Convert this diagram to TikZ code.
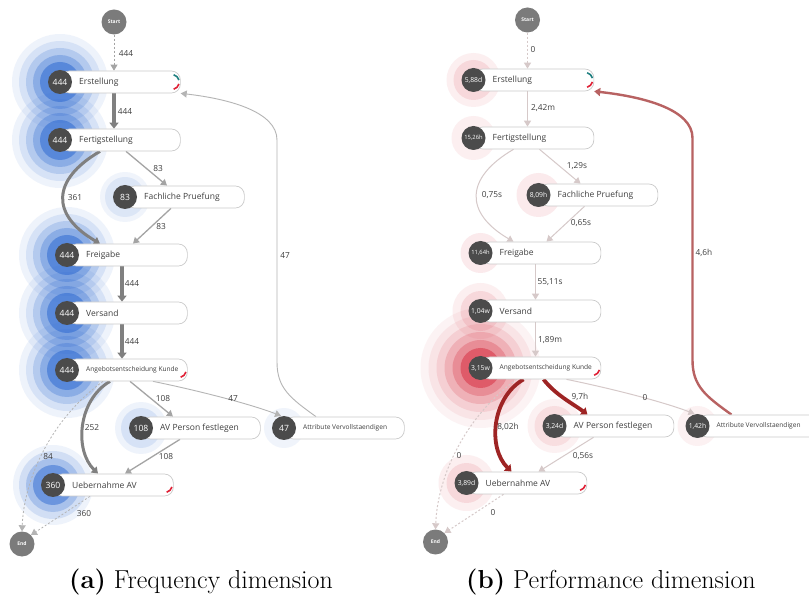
\documentclass[tikz,border=0pt]{standalone}
\usepackage{fontspec}
\newfontfamily\dgm{Open Sans}
\usetikzlibrary{arrows.meta,calc}
\pgfdeclarelayer{bg}\pgfdeclarelayer{halo}\pgfdeclarelayer{edges}
\pgfsetlayers{bg,halo,edges,main}

\definecolor{haloblue}{HTML}{2F6BD2}
\definecolor{halored}{HTML}{D93A4B}
\definecolor{cntgray}{HTML}{4B4B4B}
\definecolor{termgray}{HTML}{7B7B7B}
\definecolor{boxline}{HTML}{CACACA}
\definecolor{txt}{HTML}{3F3F3F}
\definecolor{thickgray}{HTML}{808080}
\definecolor{thingray}{HTML}{A4A4A4}
\definecolor{loopgray}{HTML}{B4B4B4}
\definecolor{palegray}{HTML}{D6C9C9}
\definecolor{darkred}{HTML}{9E2424}
\definecolor{midred}{HTML}{B86262}
\definecolor{markred}{HTML}{E02035}
\definecolor{markteal}{HTML}{1E7F80}

\tikzset{
  actbox/.style={draw=boxline, fill=white, rounded corners=9pt, minimum height=22pt,
    inner sep=0pt, anchor=west, line width=0.7pt},
  acttext/.style={anchor=west, inner sep=0pt, text=txt, font=\dgm\fontsize{8.5}{10}\selectfont},
  acttextsm/.style={acttext, font=\dgm\fontsize{6.6}{8}\selectfont},
  cnt/.style={circle, fill=cntgray, minimum size=24pt, inner sep=0pt, text=white,
    font=\dgm\fontsize{8.6}{9}\selectfont},
  term/.style={circle, fill=termgray, minimum size=25pt, inner sep=0pt, text=white,
    font=\dgm\bfseries\fontsize{5}{6}\selectfont},
  elab/.style={text=txt, inner sep=0pt, font=\dgm\fontsize{8.3}{9}\selectfont},
  thick edge/.style={draw=thickgray, line width=3.8pt, -{Triangle[length=6pt,width=9pt]}},
  mid edge/.style={draw=thickgray, line width=3pt, -{Triangle[length=6pt,width=8pt]}},
  thin edge/.style={draw=thingray, line width=1.3pt, -{Triangle[length=6pt,width=7pt]}},
  hair edge/.style={draw=loopgray, line width=0.9pt, -{Triangle[length=6pt,width=7pt]}},
  dash edge/.style={draw=thingray, line width=0.8pt, dash pattern=on 2pt off 2pt,
    -{Triangle[length=6pt,width=7pt]}},
  pale edge/.style={draw=palegray, line width=1pt, -{Triangle[length=6pt,width=7pt]}},
  pale dash/.style={pale edge, dash pattern=on 2pt off 2pt},
  red edge/.style={draw=darkred, line width=3.8pt, -{Triangle[length=6pt,width=9pt]}},
  back edge/.style={draw=midred, line width=2.4pt, -{Triangle[length=6pt,width=8pt]}},
  caption/.style={inner sep=0pt, font=\fontsize{26}{30}\selectfont},
}

% activity: name, x, y, box width, label, count, label style
\newcommand\act[7]{%
  \node[actbox, minimum width=#4pt] (#1) at (#2,#3) {};
  \node[#7] (#1t) at (#2+19,#3) {#5};
  \node[cnt] (#1c) at (#2,#3) {#6};
}
% concentric rings round a count circle
\newcommand\halo[3]{%
  \foreach \r/\o in {#2} {\fill[#3, fill opacity=\o] (#1) circle[radius=\r pt];}
}
% status arcs in the right end of a box
\newcommand\redarc[1]{%
  \draw[markred, line width=1.6pt] ($(#1.east)+(-9pt,0pt)+(-15:7.5pt)$)
    arc[start angle=-15, end angle=-75, radius=7.5pt];}
\newcommand\tealarc[1]{%
  \draw[markteal, line width=1.6pt] ($(#1.east)+(-9pt,0pt)+(75:7.5pt)$)
    arc[start angle=75, end angle=15, radius=7.5pt];}

\begin{document}
\begin{tikzpicture}[x=1pt,y=-1pt]
\begin{pgfonlayer}{bg}
  \fill[white] (0,0) rectangle (809,601);
\end{pgfonlayer}
\useasboundingbox (0,0) rectangle (809,601);

%% ---------------- (a) frequency ----------------
\act{aErst}{60}{82}{120}{Erstellung}{444}{acttext}
\act{aFert}{60}{140}{120}{Fertigstellung}{444}{acttext}
\act{aFach}{125}{197}{119}{Fachliche Pruefung}{83}{acttext}
\act{aFrei}{67}{255}{120}{Freigabe}{444}{acttext}
\act{aVers}{67}{313}{120}{Versand}{444}{acttext}
\act{aAng}{67}{370}{120}{Angebotsentscheidung Kunde}{444}{acttextsm}
\act{aAV}{141}{428}{119}{AV Person festlegen}{108}{acttext}
\act{aAtt}{284}{428}{120}{Attribute Vervollstaendigen}{47}{acttextsm}
\act{aUeb}{53}{485}{120}{Uebernahme AV}{360}{acttext}
\node[term] (aStart) at (114,22) {Start};
\node[term] (aEnd) at (22,544) {End};
\tealarc{aErst}\redarc{aErst}\redarc{aAng}\redarc{aUeb}

\begin{pgfonlayer}{halo}
  \halo{aErstc}{48/.08,41/.12,34/.2,27/.3,20/.55}{haloblue}
  \halo{aFertc}{48/.08,41/.12,34/.2,27/.3,20/.55}{haloblue}
  \halo{aFreic}{48/.08,41/.12,34/.2,27/.3,20/.55}{haloblue}
  \halo{aVersc}{48/.08,41/.12,34/.2,27/.3,20/.55}{haloblue}
  \halo{aAngc}{48/.08,41/.12,34/.2,27/.3,20/.55}{haloblue}
  \halo{aUebc}{40/.08,34/.15,27/.25,20/.5}{haloblue}
  \halo{aFachc}{25/.07,20/.1}{haloblue}
  \halo{aAVc}{26/.08,20/.12}{haloblue}
  \halo{aAttc}{20/.07}{haloblue}
\end{pgfonlayer}

\begin{pgfonlayer}{edges}
  \draw[dash edge] (aStart) -- ([xshift=54pt]aErst.north west);
  \draw[thick edge] ([xshift=54pt]aErst.south west) -- ([xshift=54pt]aFert.north west);
  \draw[thin edge] ([xshift=66pt]aFert.south west) -- ([xshift=42pt]aFach.north west);
  \draw[mid edge] ([xshift=40pt]aFert.south west) .. controls (51,180) and (51,215)
    .. ([xshift=33pt]aFrei.north west);
  \draw[thin edge] ([xshift=46pt]aFach.south west) -- ([xshift=66pt]aFrei.north west);
  \draw[thick edge] ([xshift=55pt]aFrei.south west) -- ([xshift=55pt]aVers.north west);
  \draw[thick edge] ([xshift=55pt]aVers.south west) -- ([xshift=55pt]aAng.north west);
  \draw[thin edge] ([xshift=63pt]aAng.south west) -- ([xshift=32pt]aAV.north west);
  \draw[hair edge] ([xshift=86pt]aAng.south west) .. controls (200,391) and (250,404)
    .. ([xshift=-3pt]aAttc.north);
  \draw[mid edge] ([xshift=43pt]aAng.south west) .. controls (78,400) and (74,450)
    .. ([xshift=45pt]aUeb.north west);
  \draw[thin edge] ([xshift=39pt]aAV.south west) -- ([xshift=72pt]aUeb.north west);
  \draw[dash edge, draw=loopgray] ([xshift=36pt]aAng.south west) .. controls (50,420) and (24,480)
    .. (aEnd.north);
  \draw[dash edge, draw=loopgray] ([xshift=37pt]aUeb.south west) -- (aEnd.north east);
  \draw[hair edge] ([xshift=32pt]aAtt.north west) .. controls (290,398) and (277,388)
    .. (277,362) -- (277,140) .. controls (277,112) and (230,99) .. (aErst.south east);
\end{pgfonlayer}

\node[elab] (aL1) at (126,54) {444};
\node[elab] (aL2) at (125,112) {444};
\node[elab] (aL3) at (158,169) {83};
\node[elab] (aL4) at (75,198) {361};
\node[elab] (aL5) at (161,227) {83};
\node[elab] (aL6) at (132,284) {444};
\node[elab] (aL7) at (132,342) {444};
\node[elab] (aL8) at (163,399) {108};
\node[elab] (aL9) at (233,399) {47};
\node[elab] (aL10) at (92,428) {252};
\node[elab] (aL11) at (166,457) {108};
\node[elab] (aL12) at (48,457) {84};
\node[elab] (aL13) at (84,514) {360};
\node[elab] (aL14) at (285,256) {47};

%% ---------------- (b) performance ----------------
\begin{scope}[shift={(413.5,-2)}]
\act{bErst}{60}{82}{120}{Erstellung}{\fontsize{6.8}{7}\selectfont 5,88d}{acttext}
\act{bFert}{60}{140}{120}{Fertigstellung}{\fontsize{5.8}{6}\selectfont 15,26h}{acttext}
\act{bFach}{125}{197}{119}{Fachliche Pruefung}{\fontsize{6.8}{7}\selectfont 8,09h}{acttext}
\act{bFrei}{67}{255}{120}{Freigabe}{\fontsize{5.8}{6}\selectfont 11,64h}{acttext}
\act{bVers}{67}{313}{120}{Versand}{\fontsize{6.8}{7}\selectfont 1,04w}{acttext}
\act{bAng}{67}{370}{120}{Angebotsentscheidung Kunde}{\fontsize{6.8}{7}\selectfont 3,15w}{acttextsm}
\act{bAV}{141}{428}{119}{AV Person festlegen}{\fontsize{6.8}{7}\selectfont 3,24d}{acttext}
\act{bAtt}{284}{428}{120}{Attribute Vervollstaendigen}{\fontsize{6.8}{7}\selectfont 1,42h}{acttextsm}
\act{bUeb}{53}{485}{120}{Uebernahme AV}{\fontsize{6.8}{7}\selectfont 3,89d}{acttext}
\node[term] (bStart) at (114,22) {Start};
\node[term] (bEnd) at (22,544) {End};
\tealarc{bErst}\redarc{bErst}\redarc{bAng}\redarc{bUeb}

\begin{pgfonlayer}{halo}
  \halo{bErstc}{27/.08,20/.12}{halored}
  \halo{bFertc}{22/.08}{halored}
  \halo{bFachc}{22/.1}{halored}
  \halo{bFreic}{20/.1}{halored}
  \halo{bVersc}{28/.08,20/.12}{halored}
  \halo{bAngc}{60/.06,52/.08,44/.12,36/.2,28/.3,20/.6}{halored}
  \halo{bAVc}{27/.07,20/.1}{halored}
  \halo{bAttc}{20/.07}{halored}
  \halo{bUebc}{28/.08,20/.12}{halored}
\end{pgfonlayer}

\begin{pgfonlayer}{edges}
  \draw[pale dash] (bStart) -- ([xshift=54pt]bErst.north west);
  \draw[pale edge] ([xshift=54pt]bErst.south west) -- ([xshift=54pt]bFert.north west);
  \draw[pale edge] ([xshift=66pt]bFert.south west) -- ([xshift=42pt]bFach.north west);
  \draw[pale edge] ([xshift=40pt]bFert.south west) .. controls (51,180) and (51,215)
    .. ([xshift=33pt]bFrei.north west);
  \draw[pale edge] ([xshift=46pt]bFach.south west) -- ([xshift=66pt]bFrei.north west);
  \draw[pale edge] ([xshift=55pt]bFrei.south west) -- ([xshift=55pt]bVers.north west);
  \draw[pale edge] ([xshift=55pt]bVers.south west) -- ([xshift=55pt]bAng.north west);
  \draw[red edge] ([xshift=63pt]bAng.south west) .. controls (142,397) and (160,406)
    .. ([xshift=33pt]bAV.north west);
  \draw[pale edge] ([xshift=86pt]bAng.south west) .. controls (200,391) and (250,404)
    .. ([xshift=-3pt]bAttc.north);
  \draw[red edge] ([xshift=43pt]bAng.south west) .. controls (78,400) and (74,450)
    .. ([xshift=45pt]bUeb.north west);
  \draw[pale edge] ([xshift=39pt]bAV.south west) -- ([xshift=72pt]bUeb.north west);
  \draw[pale dash] ([xshift=36pt]bAng.south west) .. controls (50,420) and (24,480)
    .. (bEnd.north);
  \draw[pale dash] ([xshift=37pt]bUeb.south west) -- (bEnd.north east);
  \draw[back edge] ([xshift=34pt]bAtt.north west) .. controls (292,398) and (279,388)
    .. (279,362) -- (279,140) .. controls (279,112) and (232,99) .. (bErst.south east);
\end{pgfonlayer}

\node[elab] (bL1) at (119.5,52) {0};
\node[elab] (bL2) at (129.5,110) {2,42m};
\node[elab] (bL3) at (163.5,168) {1,29s};
\node[elab] (bL4) at (78.5,197) {0,75s};
\node[elab] (bL5) at (167.5,225) {0,65s};
\node[elab] (bL6) at (136.5,284) {55,11s};
\node[elab] (bL7) at (136.5,342) {1,89m};
\node[elab] (bL8) at (166.5,399) {9,7h};
\node[elab] (bL9) at (231.5,400) {0};
\node[elab] (bL10) at (94.5,429) {8,02h};
\node[elab] (bL11) at (169.5,458) {0,56s};
\node[elab] (bL12) at (45.5,458) {0};
\node[elab] (bL13) at (79.5,515) {0};
\node[elab] (bL14) at (290.5,255) {4,6h};
\end{scope}

%% ---------------- captions ----------------
\node[caption] (capA) at (201,582) {\textbf{(a)} Frequency dimension};
\node[caption] (capB) at (611,582) {\textbf{(b)} Performance dimension};
\end{tikzpicture}
\end{document}
